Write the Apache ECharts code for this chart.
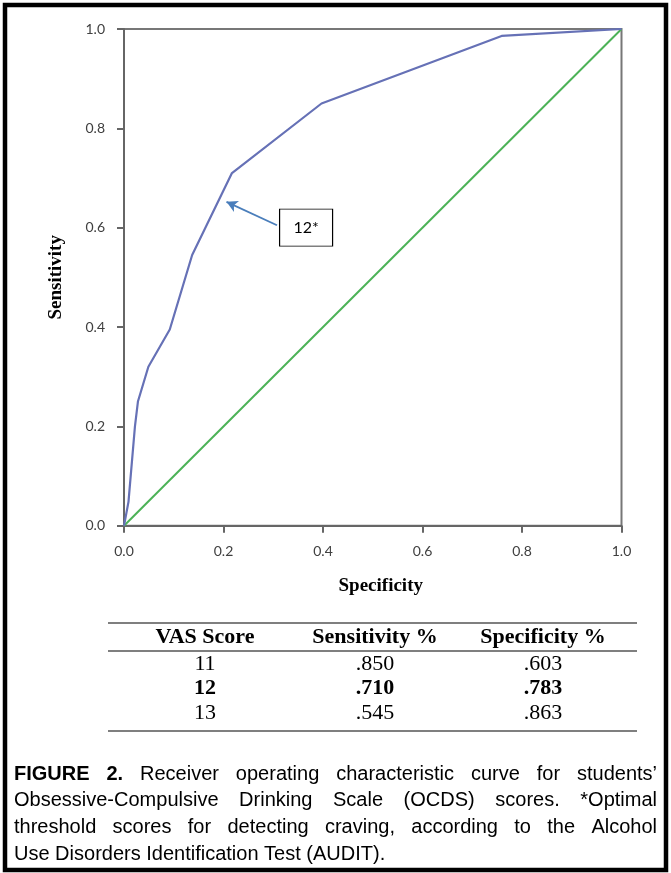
<!DOCTYPE html>
<html><head><meta charset="utf-8">
<script src="https://cdn.jsdelivr.net/npm/echarts@6/dist/echarts.min.js"></script>
<style>html,body{margin:0;padding:0;background:#fff}#c{width:671px;height:873px}</style>
</head><body><div id="c"></div>
<script>
// ---- data ----
const rocX = [0, 0.009, 0.022, 0.028, 0.049, 0.092, 0.137, 0.217, 0.397, 0.759, 1.0];
const rocY = [0, 0.048, 0.20, 0.25, 0.32, 0.395, 0.545, 0.710, 0.850, 0.986, 1.0];
const refX = [0, 1];
const refY = [0, 1];
const axisMin = 0, axisMax = 1, axisInterval = 0.2;
const xAxisName = 'Specificity';
const yAxisName = 'Sensitivity';
const annotationLabel = '12*';
const annotationTip = [0.206, 0.652];
const annotationTail = [0.3075, 0.605];
const annotationBox = [0.366, 0.600];
const tableHeaders = ['VAS Score', 'Sensitivity %', 'Specificity %'];
const vasScores = ['11', '12', '13'];
const sensitivityVals = ['.850', '.710', '.545'];
const specificityVals = ['.603', '.783', '.863'];
const boldRowIndex = 1;
const captionLines = [
  'FIGURE 2. Receiver operating characteristic curve for students\u2019',
  'Obsessive-Compulsive Drinking Scale (OCDS) scores. *Optimal',
  'threshold scores for detecting craving, according to the Alcohol',
  'Use Disorders Identification Test (AUDIT).'
];
const captionBoldWords = 2;

// ---- layout ----
const G = {left: 124, top: 29, width: 497.5, height: 496.7};
const tableCols = [205, 375, 543];
const tableX0 = 108, tableX1 = 637;
const tableRules = [623, 651, 731];
const headerY = 637;
const rowY0 = 664, rowStep = 24.5;
const capX0 = 14, capX1 = 657, capY0 = 774, capStep = 26.8;
const capFont = '"Liberation Sans", Arial, sans-serif';
const capSize = 20;
const serif = '"Liberation Serif", "Times New Roman", serif';
const tickFont = 'Lato, "Open Sans", sans-serif';

const chart = echarts.init(document.getElementById('c'), null, {renderer: 'canvas'});

const graphics = [];
graphics.push({type: 'rect', shape: {x: 5, y: 5, width: 661, height: 865},
  style: {fill: 'none', stroke: '#000', lineWidth: 4.5}, z: 100});
tableRules.forEach(y => graphics.push({type: 'line', shape: {x1: tableX0, y1: y, x2: tableX1, y2: y},
  style: {stroke: '#000', lineWidth: 1.2}}));
tableHeaders.forEach((h, i) => graphics.push({type: 'text', x: tableCols[i], y: headerY,
  style: {text: h, fontFamily: serif, fontSize: 22, fontWeight: 'bold', fill: '#000', align: 'center', verticalAlign: 'middle'}}));
const cols = [vasScores, sensitivityVals, specificityVals];
vasScores.forEach((_, r) => {
  cols.forEach((col, c) => graphics.push({type: 'text', x: tableCols[c], y: rowY0 + r * rowStep,
    style: {text: col[r], fontFamily: serif, fontSize: 22, fontWeight: r === boldRowIndex ? 'bold' : 'normal',
      fill: '#000', align: 'center', verticalAlign: 'middle'}}));
});
const mctx = document.createElement('canvas').getContext('2d');
function mw(t, bold) { mctx.font = (bold ? 'bold ' : '') + capSize + 'px ' + capFont; return mctx.measureText(t).width; }
captionLines.forEach((line, li) => {
  const words = line.split(' ');
  const isBold = (wi) => li === 0 && wi < captionBoldWords;
  const widths = words.map((w, wi) => mw(w, isBold(wi)));
  const total = widths.reduce((a, b) => a + b, 0);
  const last = li === captionLines.length - 1;
  const gap = last ? mw(' ', false) : (capX1 - capX0 - total) / (words.length - 1);
  let x = capX0;
  words.forEach((w, wi) => {
    graphics.push({type: 'text', x: x, y: capY0 + li * capStep,
      style: {text: w, fontFamily: capFont, fontSize: capSize, fontWeight: isBold(wi) ? 'bold' : 'normal',
        fill: '#000', align: 'left', verticalAlign: 'middle'}});
    x += widths[wi] + gap;
  });
});

const axisCommon = {
  type: 'value', min: axisMin, max: axisMax, interval: axisInterval,
  axisLine: {show: true, lineStyle: {color: '#666', width: 2}},
  axisTick: {show: true, inside: false, length: 7, lineStyle: {color: '#666', width: 2}},
  splitLine: {show: false},
  axisLabel: {formatter: v => v.toFixed(1), fontFamily: tickFont, fontSize: 14, color: '#404040', margin: 19},
  nameLocation: 'middle',
  nameTextStyle: {fontFamily: serif, fontWeight: 'bold', fontSize: 19, color: '#000'}
};

chart.setOption({
  animation: false,
  grid: {left: G.left, top: G.top, width: G.width, height: G.height, show: true, borderColor: '#777', borderWidth: 2, backgroundColor: 'transparent'},
  xAxis: Object.assign({}, axisCommon, {name: xAxisName, nameGap: 51,
    nameTextStyle: Object.assign({}, axisCommon.nameTextStyle, {padding: [0, 0, 0, 16]})}),
  yAxis: Object.assign({}, axisCommon, {name: yAxisName, nameGap: 58, nameRotate: 90}),
  series: [
    {type: 'line', data: refX.map((x, i) => [x, refY[i]]), symbol: 'none',
      lineStyle: {color: '#4cb257', width: 2}, z: 2},
    {type: 'line', data: rocX.map((x, i) => [x, rocY[i]]), symbol: 'none',
      lineStyle: {color: '#6671b6', width: 2.2}, z: 3,
      markLine: {silent: true, symbol: ['none', 'arrow'], symbolSize: [9, 11],
        lineStyle: {color: '#4a7ebb', width: 1.8, type: 'solid'}, label: {show: false},
        data: [[{coord: annotationTail}, {coord: annotationTip}]]},
      markPoint: {silent: true, symbol: 'rect', symbolSize: [53, 37],
        itemStyle: {color: '#fff', borderColor: '#000', borderWidth: 1},
        label: {show: true, position: 'inside', formatter: annotationLabel, color: '#000', fontSize: 16, fontFamily: tickFont},
        data: [{coord: annotationBox}]}
    }
  ],
  graphic: graphics
});
</script></body></html>
